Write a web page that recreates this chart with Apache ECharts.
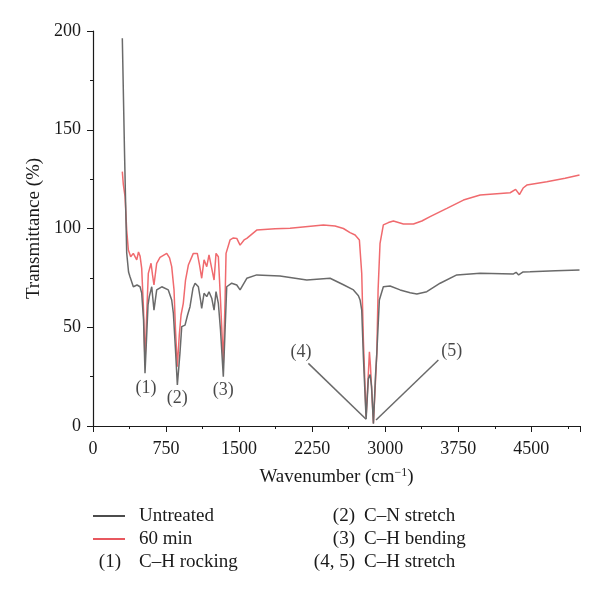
<!DOCTYPE html>
<html>
<head>
<meta charset="utf-8">
<script src="https://cdn.jsdelivr.net/npm/echarts@6/dist/echarts.min.js"></script>
<style>
  html, body { margin: 0; padding: 0; background: #fff; }
  #main { width: 600px; height: 598px; }
</style>
</head>
<body>
<div id="main"></div>
<script>
// FTIR spectra: [wavenumber, transmittance]
var untreated = [
  [301, 196.3], [323, 140], [346, 87.6], [365, 78], [380, 75.6], [414, 70.5], [452, 71.4],
  [483, 70.5], [500, 67.3], [519, 53.7], [534, 26.7], [549, 43.5], [565, 61.3], [578, 65.5],
  [603, 70.5], [626, 58.7], [654, 68.9], [706, 70.5], [773, 68.9], [808, 63.8], [825, 57.1],
  [847, 38.5], [866, 20.8], [883, 30.9], [893, 37], [911, 50.3], [945, 51.1], [971, 56.2],
  [996, 60.4], [1027, 69.9], [1048, 72.3], [1082, 70.5], [1104, 63.8], [1116, 59.6],
  [1140, 67.2], [1168, 65.5], [1191, 68], [1219, 64.7], [1243, 58.7], [1263, 68],
  [1287, 62.1], [1309, 48.6], [1338, 25], [1356, 48.6], [1373, 70.5], [1424, 72.3],
  [1476, 71.4], [1510, 68.9], [1527, 69.7], [1579, 74.8], [1681, 76.5], [1920, 76],
  [2195, 73.9], [2434, 74.8], [2571, 71.5], [2674, 68.9], [2725, 66], [2742, 63.8],
  [2759, 58.7], [2776, 35], [2804, 3.5], [2827, 24], [2845, 26], [2860, 20], [2879, 1.2],
  [2900, 25], [2914, 37], [2940, 63.8], [2981, 70.5], [3050, 70.9], [3153, 68.9],
  [3256, 67.5], [3325, 66.8], [3427, 68], [3564, 72.3], [3735, 76.5], [3975, 77.3],
  [4317, 77], [4344, 77.8], [4370, 76.5], [4385, 75.8], [4416, 78], [4488, 78.1],
  [4750, 78.6], [4995, 79]
];
var min60 = [
  [301, 128.8], [311, 122.5], [329, 116.1], [346, 99.2], [363, 89.1], [387, 85.7],
  [414, 87.4], [449, 84.1], [467, 88.1], [483, 86.1], [500, 79.8], [519, 58.7], [534, 31.9],
  [549, 53.7], [568, 77.3], [596, 82.4], [611, 76.5], [626, 71.4], [654, 82.4], [688, 85.4],
  [757, 87.4], [786, 85.1], [808, 80.7], [832, 68.9], [847, 48.6], [866, 30], [886, 46.1],
  [904, 56.2], [927, 62.1], [950, 73.9], [979, 81.5], [1030, 87.4], [1071, 87.4],
  [1094, 81.5], [1116, 74.8], [1140, 84.1], [1168, 80.7], [1191, 86.6], [1219, 79.8],
  [1243, 73.9], [1263, 87.4], [1287, 85.7], [1309, 63.8], [1338, 31.9], [1356, 63.8],
  [1366, 87.4], [1407, 94.2], [1441, 95.2], [1476, 95], [1510, 91.6], [1527, 90.8],
  [1551, 94.2], [1579, 95], [1681, 99.2], [1869, 99.9], [2023, 100.1], [2365, 101.8],
  [2485, 101.3], [2571, 100], [2639, 97.9], [2691, 96.7], [2735, 94.2], [2759, 77.3],
  [2776, 43.5], [2804, 4.7], [2824, 23.3], [2838, 37.6], [2848, 30.9], [2879, 1.4],
  [2901, 23.3], [2914, 37], [2927, 68.9], [2947, 92.5], [2981, 101.8], [3033, 103],
  [3084, 103.8], [3187, 102.3], [3290, 102.3], [3376, 103.8], [3461, 106], [3633, 110.2],
  [3803, 114.4], [3975, 117], [4283, 118.1], [4339, 119.8], [4378, 117.2], [4416, 120.5],
  [4454, 122], [4659, 123.7], [4847, 125.4], [4995, 127.1]
];

// peak labels and the two leader lines for (4) and (5)
var peakLabels = [
  { name: '(1)', value: [544, 19] },
  { name: '(2)', value: [866, 14] },
  { name: '(3)', value: [1338, 17.9] },
  { name: '(4)', value: [2136, 37.1] },
  { name: '(5)', value: [3684, 37.6] }
];
var leader4 = [[2211, 31.7], [2804, 3.4]];
var leader5 = [[2906, 3], [3546, 33.4]];

var xTicks = { min: 0, max: 5000, step: 750 };
var yTicks = { min: 0, max: 200, step: 50 };

var seriesNames = ['Untreated', '60 min'];
var notes = [
  ['(1)', 'C\u2013H rocking'],
  ['(2)', 'C\u2013N stretch'],
  ['(3)', 'C\u2013H bending'],
  ['(4, 5)', 'C\u2013H stretch']
];

var font = "'Liberation Serif', 'DejaVu Serif', serif";
var ink = '#1a1a1a';

var chartDom = document.getElementById('main');
var myChart = echarts.init(chartDom);

// legend block drawn by hand (rows in px)
var row = [516, 539, 562];
var graphics = [];
function addText(x, y, text, align) {
  graphics.push({
    type: 'text', x: x, y: y,
    style: { text: text, font: '19px ' + font, fill: ink, textAlign: align, textVerticalAlign: 'middle' }
  });
}
function addSwatch(y, color) {
  graphics.push({
    type: 'line', shape: { x1: 93, y1: y, x2: 125, y2: y },
    style: { stroke: color, lineWidth: 1.5 }
  });
}
addSwatch(row[0], '#111');
addText(139, row[0], seriesNames[0], 'left');
addSwatch(row[1], '#e0202a');
addText(139, row[1], seriesNames[1], 'left');
addText(121, row[2], notes[0][0], 'right');
addText(139, row[2], notes[0][1], 'left');
addText(355, row[0], notes[1][0], 'right');
addText(364, row[0], notes[1][1], 'left');
addText(355, row[1], notes[2][0], 'right');
addText(364, row[1], notes[2][1], 'left');
addText(355, row[2], notes[3][0], 'right');
addText(364, row[2], notes[3][1], 'left');

var option = {
  animation: false,
  backgroundColor: '#fff',
  textStyle: { fontFamily: font },
  grid: { left: 93, right: 20, top: 31, bottom: 172 },
  xAxis: {
    type: 'value',
    min: xTicks.min,
    max: xTicks.max,
    interval: xTicks.step,
    name: 'Wavenumber (cm{sup|\u22121})',
    nameLocation: 'middle',
    nameGap: 41,
    nameTextStyle: {
      fontSize: 19, fontFamily: font, color: ink,
      rich: { sup: { fontSize: 12, verticalAlign: 'top', padding: [0, 0, 9, 0], fontFamily: font, color: ink } }
    },
    splitLine: { show: false },
    axisLine: { lineStyle: { color: ink, width: 1.2 } },
    axisTick: { length: 6, lineStyle: { color: ink } },
    minorTick: { show: true, splitNumber: 2, length: 3, lineStyle: { color: ink } },
    axisLabel: {
      fontSize: 18, fontFamily: font, color: ink, margin: 14, showMaxLabel: false,
      formatter: function (v) { return String(v); }
    }
  },
  yAxis: {
    type: 'value',
    min: yTicks.min,
    max: yTicks.max,
    interval: yTicks.step,
    name: 'Transmittance (%)',
    nameLocation: 'middle',
    nameGap: 46,
    nameTextStyle: { fontSize: 19, fontFamily: font, color: ink },
    splitLine: { show: false },
    axisLine: { show: true, lineStyle: { color: ink, width: 1.2 } },
    axisTick: { show: true, length: 6, lineStyle: { color: ink } },
    minorTick: { show: true, splitNumber: 2, length: 3, lineStyle: { color: ink } },
    axisLabel: { fontSize: 18, fontFamily: font, color: ink, margin: 12 }
  },
  series: [
    {
      name: seriesNames[0], type: 'line', data: untreated, showSymbol: false, symbol: 'none',
      lineStyle: { color: '#6a6a6a', width: 1.5 }, z: 3
    },
    {
      name: seriesNames[1], type: 'line', data: min60, showSymbol: false, symbol: 'none',
      lineStyle: { color: '#f06a6e', width: 1.5 }, z: 2
    },
    {
      type: 'line', data: leader4, showSymbol: false, symbol: 'none', silent: true,
      lineStyle: { color: '#6a6a6a', width: 1.5 }, z: 4
    },
    {
      type: 'line', data: leader5, showSymbol: false, symbol: 'none', silent: true,
      lineStyle: { color: '#6a6a6a', width: 1.5 }, z: 4
    },
    {
      type: 'scatter', data: peakLabels, symbolSize: 0, silent: true, z: 5,
      label: {
        show: true, position: 'inside', formatter: '{b}',
        fontSize: 18, fontFamily: font, color: ink
      }
    }
  ],
  graphic: graphics
};

myChart.setOption(option);
</script>
</body>
</html>
